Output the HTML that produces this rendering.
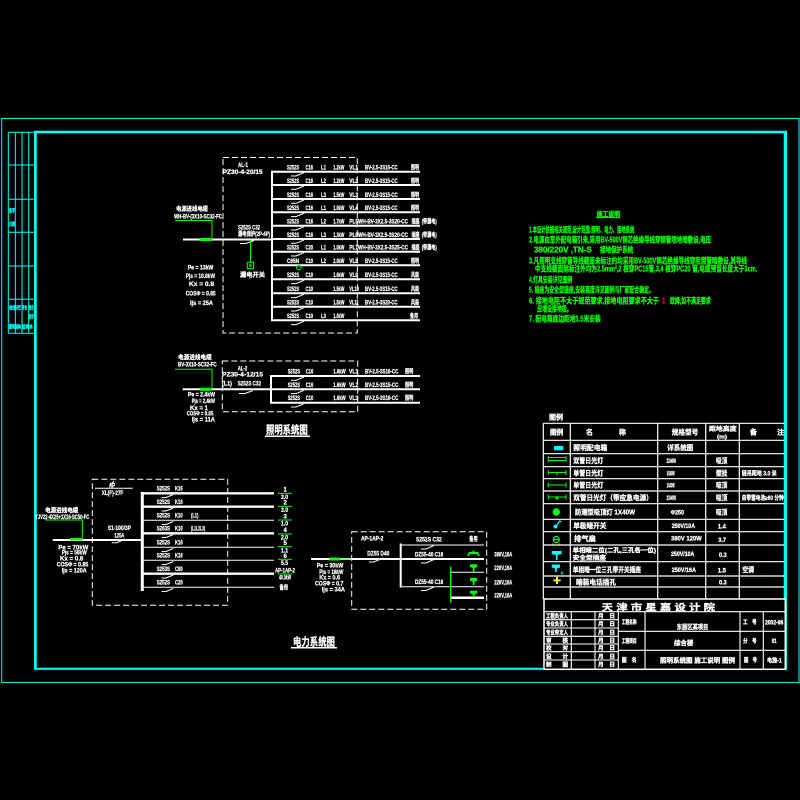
<!DOCTYPE html>
<html><head><meta charset="utf-8">
<style>
html,body{margin:0;padding:0;background:#000;}
svg{display:block;}
text{font-family:"Liberation Sans","Noto Sans CJK SC",sans-serif;font-weight:bold;}
.w{fill:#fff;font-size:6px;stroke:#fff;stroke-width:0.25px;}
.g{fill:#00ff00;font-size:8px;stroke:#00ff00;stroke-width:0.3px;}
.c{fill:#00ffff;font-size:5px;stroke:#00ffff;stroke-width:0.3px;}
.lt{fill:#fff;font-size:7px;stroke:#fff;stroke-width:0.3px;}
</style></head>
<body>
<svg width="800" height="800" viewBox="0 0 800 800" xmlns="http://www.w3.org/2000/svg">
<rect x="0" y="0" width="800" height="800" fill="#000"/>

<!-- FRAME -->
<rect x="1.7" y="118.4" width="797.3" height="564" fill="none" stroke="#00ffff" stroke-width="1"/>
<g stroke="#00ffff" fill="none">
  <line x1="34" y1="132" x2="787" y2="132" stroke-width="2.4"/>
  <line x1="35.4" y1="131" x2="35.4" y2="669.7" stroke-width="2.7"/>
  <line x1="785.4" y1="131" x2="785.4" y2="669.7" stroke-width="3.3"/>
  <line x1="34" y1="668.7" x2="787" y2="668.7" stroke-width="2"/>
  <g stroke-width="1">
    <line x1="8.3" y1="132" x2="8.3" y2="333.3"/>
    <line x1="15.3" y1="132" x2="15.3" y2="333.3"/>
    <line x1="22" y1="132" x2="22" y2="333.3"/>
    <line x1="28.7" y1="132" x2="28.7" y2="333.3"/>
    <line x1="8.3" y1="132.3" x2="34" y2="132.3"/>
    <line x1="8.3" y1="165" x2="34" y2="165"/>
    <line x1="8.3" y1="199.3" x2="34" y2="199.3"/>
    <line x1="8.3" y1="232.3" x2="34" y2="232.3"/>
    <line x1="8.3" y1="266" x2="34" y2="266"/>
    <line x1="8.3" y1="299.3" x2="34" y2="299.3"/>
    <line x1="8.3" y1="333.3" x2="34" y2="333.3"/>
  </g>
</g>
<g class="c">
  <text x="9" y="212.5" textLength="6" lengthAdjust="spacingAndGlyphs">签字</text>
  <text x="9" y="226" textLength="6" lengthAdjust="spacingAndGlyphs">日期</text>
  <text x="9" y="309.5" textLength="12" lengthAdjust="spacingAndGlyphs">会签栏</text>
  <text x="22" y="309.5" textLength="5" lengthAdjust="spacingAndGlyphs">专业</text>
  <text x="28.7" y="309.5" textLength="5" lengthAdjust="spacingAndGlyphs">姓名</text>
  <text x="28.7" y="318.5" textLength="5" lengthAdjust="spacingAndGlyphs">签字</text>
  <text x="9" y="328.5" textLength="12" lengthAdjust="spacingAndGlyphs">建筑结构</text>
  <text x="22" y="328.5" textLength="11" lengthAdjust="spacingAndGlyphs">给排水</text>
</g>

<!-- ============ LIGHTING AL-1 ============ -->
<rect x="223" y="157.5" width="134.3" height="175.5" fill="none" stroke="#fff" stroke-width="1" stroke-dasharray="6,3"/>
<text class="w" x="238" y="167" textLength="10" lengthAdjust="spacingAndGlyphs">AL-1</text>
<text class="w" x="222.7" y="174" textLength="40" lengthAdjust="spacingAndGlyphs">PZ30-4-20/15</text>
<g stroke="#fff" fill="none">
  <line x1="272" y1="170.7" x2="272" y2="321.3" stroke-width="2"/>
  <line x1="183" y1="239.5" x2="272" y2="239.5" stroke-width="2"/>
  <g stroke-width="2">
    <line x1="272" y1="171.7" x2="420" y2="171.7"/>
    <line x1="272" y1="185" x2="420" y2="185"/>
    <line x1="272" y1="199" x2="420" y2="199"/>
    <line x1="272" y1="212.3" x2="420" y2="212.3"/>
    <line x1="272" y1="225.7" x2="420" y2="225.7"/>
    <line x1="272" y1="239" x2="420" y2="239"/>
    <line x1="272" y1="251.7" x2="420" y2="251.7"/>
    <line x1="272" y1="265.3" x2="420" y2="265.3"/>
    <line x1="272" y1="279.3" x2="420" y2="279.3"/>
    <line x1="272" y1="293.3" x2="420" y2="293.3"/>
    <line x1="272" y1="306.7" x2="420" y2="306.7"/>
    <line x1="272" y1="320.3" x2="420" y2="320.3"/>
  </g>
  <g stroke-width="1">
    <path d="M291 176 L296 176 L304 172.7"/>
    <path d="M291 189.3 L296 189.3 L304 186"/>
    <path d="M291 203.3 L296 203.3 L304 200"/>
    <path d="M291 216.6 L296 216.6 L304 213.3"/>
    <path d="M291 230 L296 230 L304 226.7"/>
    <path d="M291 243.3 L296 243.3 L304 240"/>
    <path d="M291 256 L296 256 L304 252.7"/>
    <path d="M291 283.6 L296 283.6 L304 280.3"/>
    <path d="M291 297.6 L296 297.6 L304 294.3"/>
    <path d="M291 311 L296 311 L304 307.7"/>
    <path d="M291 324.6 L296 324.6 L304 321.3"/>
    <path d="M240 243.5 L246 243.5 L254 240.5"/>
  </g>
</g>
<circle cx="298.8" cy="267.5" r="2.3" fill="none" stroke="#00ff00" stroke-width="1"/>
<rect x="200" y="238" width="12" height="3" fill="#00ff00"/>
<polyline points="175,220.5 212,220.5 212,239" fill="none" stroke="#00ff00" stroke-width="1"/>
<line x1="250.5" y1="240" x2="250.5" y2="262.5" stroke="#00ff00" stroke-width="1"/>
<rect x="247.3" y="262.3" width="6.3" height="6.3" fill="none" stroke="#00ff00" stroke-width="1"/>
<rect x="249.3" y="264.3" width="2.3" height="2.3" fill="#00ff00"/>
<g class="w">
  <text x="176" y="211" textLength="32" lengthAdjust="spacingAndGlyphs">电源进线电缆</text>
  <text x="174" y="218.3" textLength="48" lengthAdjust="spacingAndGlyphs">WH-BV-(3X10-SC32-FC</text>
  <text x="238" y="229.3" textLength="22" lengthAdjust="spacingAndGlyphs">S252S  C32</text>
  <text x="238" y="236" textLength="32" lengthAdjust="spacingAndGlyphs">漏电保护(2P-4P)</text>
  <text x="240" y="277" textLength="25" lengthAdjust="spacingAndGlyphs">漏电开关</text>
  <text x="187.7" y="269.3" textLength="25.6" lengthAdjust="spacingAndGlyphs">Pe  = 13kW</text>
  <text x="185.7" y="278" textLength="29.3" lengthAdjust="spacingAndGlyphs">Pjs = 10.8kW</text>
  <text x="189" y="286" textLength="25" lengthAdjust="spacingAndGlyphs">Kx  =  0.8</text>
  <text x="185.7" y="295.3" textLength="30" lengthAdjust="spacingAndGlyphs">COSΦ =  0.85</text>
  <text x="190" y="305" textLength="23" lengthAdjust="spacingAndGlyphs">Ijs =  25A</text>
</g>
<g class="w">
  <text x="287" y="169.5" textLength="12" lengthAdjust="spacingAndGlyphs">S252S</text><text x="305.5" y="169.5" textLength="7.5" lengthAdjust="spacingAndGlyphs">C16</text><text x="321" y="169.5" textLength="5" lengthAdjust="spacingAndGlyphs">L1</text><text x="333.3" y="169.5" textLength="11" lengthAdjust="spacingAndGlyphs">1.2kW</text><text x="349.3" y="169.5" textLength="8.7" lengthAdjust="spacingAndGlyphs">VL1</text><text x="365" y="169.5" textLength="32.7" lengthAdjust="spacingAndGlyphs">BV-2.5-3S16-CC</text><text x="411" y="169.5" textLength="8" lengthAdjust="spacingAndGlyphs">照明</text>
  <text x="287" y="182.8" textLength="12" lengthAdjust="spacingAndGlyphs">S252S</text><text x="305.5" y="182.8" textLength="7.5" lengthAdjust="spacingAndGlyphs">C16</text><text x="321" y="182.8" textLength="5" lengthAdjust="spacingAndGlyphs">L2</text><text x="333.3" y="182.8" textLength="11" lengthAdjust="spacingAndGlyphs">1.2kW</text><text x="349.3" y="182.8" textLength="8.7" lengthAdjust="spacingAndGlyphs">VL2</text><text x="365" y="182.8" textLength="32.7" lengthAdjust="spacingAndGlyphs">BV-2.5-3S15-CC</text><text x="411" y="182.8" textLength="8" lengthAdjust="spacingAndGlyphs">照明</text>
  <text x="287" y="196.8" textLength="12" lengthAdjust="spacingAndGlyphs">S252S</text><text x="305.5" y="196.8" textLength="7.5" lengthAdjust="spacingAndGlyphs">C16</text><text x="321" y="196.8" textLength="5" lengthAdjust="spacingAndGlyphs">L3</text><text x="333.3" y="196.8" textLength="11" lengthAdjust="spacingAndGlyphs">1.5kW</text><text x="349.3" y="196.8" textLength="8.7" lengthAdjust="spacingAndGlyphs">VL3</text><text x="365" y="196.8" textLength="32.7" lengthAdjust="spacingAndGlyphs">BV-2.5-3S15-CC</text><text x="411" y="196.8" textLength="8" lengthAdjust="spacingAndGlyphs">照明</text>
  <text x="287" y="210.1" textLength="12" lengthAdjust="spacingAndGlyphs">S252S</text><text x="305.5" y="210.1" textLength="7.5" lengthAdjust="spacingAndGlyphs">C16</text><text x="321" y="210.1" textLength="5" lengthAdjust="spacingAndGlyphs">L1</text><text x="333.3" y="210.1" textLength="11" lengthAdjust="spacingAndGlyphs">1.0kW</text><text x="349.3" y="210.1" textLength="8.7" lengthAdjust="spacingAndGlyphs">VL4</text><text x="365" y="210.1" textLength="32.7" lengthAdjust="spacingAndGlyphs">BV-2.5-3S15-CC</text><text x="411" y="210.1" textLength="8" lengthAdjust="spacingAndGlyphs">照明</text>
  <text x="287" y="223.5" textLength="12" lengthAdjust="spacingAndGlyphs">S252S</text><text x="305.5" y="223.5" textLength="7.5" lengthAdjust="spacingAndGlyphs">C16</text><text x="321" y="223.5" textLength="5" lengthAdjust="spacingAndGlyphs">L2</text><text x="333.3" y="223.5" textLength="11" lengthAdjust="spacingAndGlyphs">1.7kW</text><text x="349.3" y="223.5" textLength="8.7" lengthAdjust="spacingAndGlyphs">PL5</text><text x="358" y="223.5" textLength="50" lengthAdjust="spacingAndGlyphs">WH-BV-3X2.5-3S20-CC</text><text x="411.5" y="223.5" textLength="8" lengthAdjust="spacingAndGlyphs">插座</text><text x="421.7" y="223.5" textLength="15" lengthAdjust="spacingAndGlyphs">(带漏电)</text>
  <text x="287" y="236.8" textLength="12" lengthAdjust="spacingAndGlyphs">S252S</text><text x="305.5" y="236.8" textLength="7.5" lengthAdjust="spacingAndGlyphs">C16</text><text x="321" y="236.8" textLength="5" lengthAdjust="spacingAndGlyphs">L3</text><text x="333.3" y="236.8" textLength="11" lengthAdjust="spacingAndGlyphs">1.3kW</text><text x="349.3" y="236.8" textLength="8.7" lengthAdjust="spacingAndGlyphs">PL6</text><text x="358" y="236.8" textLength="50" lengthAdjust="spacingAndGlyphs">WH-BV-3X2.5-3S20-CC</text><text x="411.5" y="236.8" textLength="8" lengthAdjust="spacingAndGlyphs">插座</text><text x="421.7" y="236.8" textLength="15" lengthAdjust="spacingAndGlyphs">(带漏电)</text>
  <text x="287" y="249.5" textLength="12" lengthAdjust="spacingAndGlyphs">S252S</text><text x="305.5" y="249.5" textLength="7.5" lengthAdjust="spacingAndGlyphs">C20</text><text x="321" y="249.5" textLength="5" lengthAdjust="spacingAndGlyphs">L1</text><text x="333.3" y="249.5" textLength="11" lengthAdjust="spacingAndGlyphs">1.0kW</text><text x="349.3" y="249.5" textLength="8.7" lengthAdjust="spacingAndGlyphs">PL7</text><text x="358" y="249.5" textLength="50" lengthAdjust="spacingAndGlyphs">WH-BV-3X2.5-3S25-CC</text><text x="411.5" y="249.5" textLength="8" lengthAdjust="spacingAndGlyphs">插座</text><text x="421.7" y="249.5" textLength="15" lengthAdjust="spacingAndGlyphs">(带漏电)</text>
  <text x="287" y="263.1" textLength="12" lengthAdjust="spacingAndGlyphs">C65N</text><text x="305.5" y="263.1" textLength="7.5" lengthAdjust="spacingAndGlyphs">C10</text><text x="321" y="263.1" textLength="5" lengthAdjust="spacingAndGlyphs">L2</text><text x="333.3" y="263.1" textLength="11" lengthAdjust="spacingAndGlyphs">2.0kW</text><text x="349.3" y="263.1" textLength="8.7" lengthAdjust="spacingAndGlyphs">VL8</text><text x="365" y="263.1" textLength="32.7" lengthAdjust="spacingAndGlyphs">BV-2.5-3S15-CC</text><text x="411" y="263.1" textLength="8" lengthAdjust="spacingAndGlyphs">照明</text>
  <text x="287" y="277.1" textLength="12" lengthAdjust="spacingAndGlyphs">S252S</text><text x="305.5" y="277.1" textLength="7.5" lengthAdjust="spacingAndGlyphs">C10</text><text x="333.3" y="277.1" textLength="11" lengthAdjust="spacingAndGlyphs">1.6kW</text><text x="349.3" y="277.1" textLength="8.7" lengthAdjust="spacingAndGlyphs">VL9</text><text x="365" y="277.1" textLength="32.7" lengthAdjust="spacingAndGlyphs">BV-2.5-3S15-CC</text><text x="411" y="277.1" textLength="8" lengthAdjust="spacingAndGlyphs">风扇</text>
  <text x="287" y="291.1" textLength="12" lengthAdjust="spacingAndGlyphs">S252S</text><text x="305.5" y="291.1" textLength="7.5" lengthAdjust="spacingAndGlyphs">C10</text><text x="333.3" y="291.1" textLength="11" lengthAdjust="spacingAndGlyphs">1.5kW</text><text x="349.3" y="291.1" textLength="9.5" lengthAdjust="spacingAndGlyphs">VL10</text><text x="365" y="291.1" textLength="32.7" lengthAdjust="spacingAndGlyphs">BV-2.5-3S15-CC</text><text x="411" y="291.1" textLength="8" lengthAdjust="spacingAndGlyphs">风扇</text>
  <text x="287" y="304.5" textLength="12" lengthAdjust="spacingAndGlyphs">S252S</text><text x="305.5" y="304.5" textLength="7.5" lengthAdjust="spacingAndGlyphs">C10</text><text x="333.3" y="304.5" textLength="11" lengthAdjust="spacingAndGlyphs">1.5kW</text><text x="349.3" y="304.5" textLength="9.5" lengthAdjust="spacingAndGlyphs">VL11</text><text x="365" y="304.5" textLength="32.7" lengthAdjust="spacingAndGlyphs">BV-2.5-3S20-CC</text><text x="411" y="304.5" textLength="8" lengthAdjust="spacingAndGlyphs">风扇</text>
  <text x="287" y="318.1" textLength="12" lengthAdjust="spacingAndGlyphs">S252S</text><text x="305.5" y="318.1" textLength="7.5" lengthAdjust="spacingAndGlyphs">C10</text><text x="321" y="318.1" textLength="5" lengthAdjust="spacingAndGlyphs">L3</text><text x="333.3" y="318.1" textLength="11" lengthAdjust="spacingAndGlyphs">1.0kW</text><text x="410" y="318.1" textLength="8" lengthAdjust="spacingAndGlyphs">备用</text>
</g>

<!-- ============ LIGHTING AL-2 ============ -->
<rect x="222.3" y="361" width="135.4" height="50.7" fill="none" stroke="#fff" stroke-width="1" stroke-dasharray="6,3"/>
<g stroke="#fff" fill="none">
  <line x1="182.7" y1="389.3" x2="271" y2="389.3" stroke-width="2"/>
  <line x1="271" y1="375" x2="271" y2="403.7" stroke-width="2"/>
  <line x1="271" y1="376" x2="420" y2="376" stroke-width="2"/>
  <line x1="271" y1="389.3" x2="420" y2="389.3" stroke-width="2"/>
  <line x1="271" y1="402.7" x2="420" y2="402.7" stroke-width="2"/>
  <g stroke-width="1">
    <path d="M291 380.3 L296 380.3 L304 377"/>
    <path d="M291 393.6 L296 393.6 L304 390.3"/>
    <path d="M291 407 L296 407 L304 403.7"/>
    <path d="M239 393.5 L245 393.5 L253 390.5"/>
  </g>
</g>
<rect x="200" y="387.8" width="12" height="3" fill="#00ff00"/>
<polyline points="175,369.3 212,369.3 212,389" fill="none" stroke="#00ff00" stroke-width="1"/>
<g class="w">
  <text x="178" y="359.3" textLength="33.7" lengthAdjust="spacingAndGlyphs">电源进线电缆</text>
  <text x="178" y="366.7" textLength="38.7" lengthAdjust="spacingAndGlyphs">BV-3X10-SC32-FC</text>
  <text x="237.7" y="370.3" textLength="9.6" lengthAdjust="spacingAndGlyphs">AL-2</text>
  <text x="222" y="376.7" textLength="41" lengthAdjust="spacingAndGlyphs">PZ30-4-12/15</text>
  <text x="222" y="385.7" textLength="10" lengthAdjust="spacingAndGlyphs">(L1)</text>
  <text x="237.7" y="385.7" textLength="23.3" lengthAdjust="spacingAndGlyphs">S252S  C32</text>
  <text x="188" y="396.7" textLength="27" lengthAdjust="spacingAndGlyphs">Pe  = 2.4kW</text>
  <text x="191.7" y="403" textLength="23.3" lengthAdjust="spacingAndGlyphs">Pjs = 2.4kW</text>
  <text x="190" y="410" textLength="18" lengthAdjust="spacingAndGlyphs">Kx  =  1</text>
  <text x="186.7" y="415.3" textLength="26.6" lengthAdjust="spacingAndGlyphs">COSΦ =  0.85</text>
  <text x="191.7" y="421.7" textLength="23.3" lengthAdjust="spacingAndGlyphs">Ijs =  11A</text>
  <text x="287.7" y="373.5" textLength="12.3" lengthAdjust="spacingAndGlyphs">S252S</text><text x="305.7" y="373.5" textLength="7.6" lengthAdjust="spacingAndGlyphs">C16</text><text x="333.3" y="373.5" textLength="12.4" lengthAdjust="spacingAndGlyphs">1.6kW</text><text x="349" y="373.5" textLength="9.3" lengthAdjust="spacingAndGlyphs">VL1</text><text x="365" y="373.5" textLength="33.3" lengthAdjust="spacingAndGlyphs">BV-2.5-3S16-CC</text><text x="405" y="373.5" textLength="8.3" lengthAdjust="spacingAndGlyphs">照明</text>
  <text x="287.7" y="386.8" textLength="12.3" lengthAdjust="spacingAndGlyphs">S252S</text><text x="305.7" y="386.8" textLength="7.6" lengthAdjust="spacingAndGlyphs">C16</text><text x="333.3" y="386.8" textLength="12.4" lengthAdjust="spacingAndGlyphs">1.6kW</text><text x="349" y="386.8" textLength="9.3" lengthAdjust="spacingAndGlyphs">VL2</text><text x="365" y="386.8" textLength="33.3" lengthAdjust="spacingAndGlyphs">BV-2.5-3S15-CC</text><text x="405" y="386.8" textLength="8.3" lengthAdjust="spacingAndGlyphs">照明</text>
  <text x="287.7" y="400.2" textLength="12.3" lengthAdjust="spacingAndGlyphs">S252S</text><text x="305.7" y="400.2" textLength="7.6" lengthAdjust="spacingAndGlyphs">C10</text><text x="333.3" y="400.2" textLength="12.4" lengthAdjust="spacingAndGlyphs">1.6kW</text><text x="349" y="400.2" textLength="9.3" lengthAdjust="spacingAndGlyphs">VL3</text><text x="365" y="400.2" textLength="33.3" lengthAdjust="spacingAndGlyphs">BV-2.5-3S16-CC</text><text x="405" y="400.2" textLength="8.3" lengthAdjust="spacingAndGlyphs">照明</text>
</g>
<text x="266" y="433.5" fill="#fff" stroke="#fff" stroke-width="0.3" font-size="11" textLength="41.7" lengthAdjust="spacingAndGlyphs">照明系统图</text>
<line x1="265" y1="436.3" x2="310" y2="436.3" stroke="#fff" stroke-width="1.5"/>

<!-- ============ NOTES ============ -->
<g class="g">
  <text x="596.7" y="216.5" font-size="7" textLength="23.3" lengthAdjust="spacingAndGlyphs">施工说明</text>
  <text x="529" y="232.3" textLength="105.3" lengthAdjust="spacingAndGlyphs">1.本设计依据相关规范,设计范围:照明、电力、接地系统</text>
  <text x="529" y="242.5" textLength="182" lengthAdjust="spacingAndGlyphs">2.电源由室外配电箱引来,采用BV-500V铜芯绝缘导线穿钢管埋地暗敷设,电压</text>
  <text x="534" y="252.3" textLength="57.7" lengthAdjust="spacingAndGlyphs">380/220V ,TN-S</text>
  <text x="600" y="252.3" textLength="33.3" lengthAdjust="spacingAndGlyphs">接地保护系统</text>
  <text x="529" y="263.3" textLength="218" lengthAdjust="spacingAndGlyphs">3.凡照明支线穿管导线截面未标注的均采用BV-500V铜芯绝缘导线穿阻燃管暗敷设,其导线</text>
  <text x="535" y="271.7" textLength="222.3" lengthAdjust="spacingAndGlyphs">中支线截面除标注外均为2.5mm²,2 根穿PC15管,3,4 根穿PC20 管,电缆预留长度大于3cm.</text>
  <text x="529" y="282.7" textLength="43.3" lengthAdjust="spacingAndGlyphs">4.灯具安装详见图例</text>
  <text x="529" y="292.7" textLength="125" lengthAdjust="spacingAndGlyphs">5. 插座为安全型插座,安装高度详见图例与厂家配合确定。</text>
  <text x="529" y="303.3" textLength="130" lengthAdjust="spacingAndGlyphs">6. 接地电阻不大于规范要求,接地电阻要求不大于</text>
  <text x="670" y="303.3" textLength="40.7" lengthAdjust="spacingAndGlyphs">欧姆,如不满足要求</text>
  <text x="537.3" y="311.7" textLength="34.4" lengthAdjust="spacingAndGlyphs">应增设接地极。</text>
  <text x="529" y="321.7" textLength="71.7" lengthAdjust="spacingAndGlyphs">7. 配电箱底边距地1.5米安装</text>
</g>
<line x1="596" y1="217.6" x2="620.5" y2="217.6" stroke="#00ff00" stroke-width="1"/>
<text x="661.5" y="303.3" fill="#ff0000" font-size="8">1</text>

<!-- ============ LEGEND TABLE ============ -->
<text class="lt" x="549" y="419.5" textLength="14" lengthAdjust="spacingAndGlyphs">图例</text>
<g stroke="#fff" stroke-width="1.2" fill="none">
  <line x1="543.3" y1="423.3" x2="784" y2="423.3"/>
  <line x1="543.3" y1="440.3" x2="784" y2="440.3"/>
  <line x1="543.3" y1="453.7" x2="784" y2="453.7"/>
  <line x1="543.3" y1="466.7" x2="784" y2="466.7"/>
  <line x1="543.3" y1="478.7" x2="784" y2="478.7"/>
  <line x1="543.3" y1="491" x2="784" y2="491"/>
  <line x1="543.3" y1="503.7" x2="784" y2="503.7"/>
  <line x1="543.3" y1="519.3" x2="784" y2="519.3"/>
  <line x1="543.3" y1="531.7" x2="784" y2="531.7"/>
  <line x1="543.3" y1="545" x2="784" y2="545"/>
  <line x1="543.3" y1="561.7" x2="784" y2="561.7"/>
  <line x1="543.3" y1="576" x2="784" y2="576"/>
  <line x1="543.3" y1="587" x2="784" y2="587"/>
  <line x1="543.3" y1="423.3" x2="543.3" y2="599"/>
  <line x1="570.3" y1="423.3" x2="570.3" y2="599"/>
  <line x1="657.7" y1="423.3" x2="657.7" y2="599"/>
  <line x1="705.7" y1="423.3" x2="705.7" y2="599"/>
  <line x1="739.3" y1="423.3" x2="739.3" y2="599"/>
</g>
<g class="lt">
  <text x="550" y="434.5" textLength="13.3" lengthAdjust="spacingAndGlyphs">图例</text>
  <text x="586" y="434.5">名</text>
  <text x="619" y="434.5">称</text>
  <text x="671.7" y="434.5" textLength="26.6" lengthAdjust="spacingAndGlyphs">规格型号</text>
  <text x="709" y="431" font-size="6" textLength="27.7" lengthAdjust="spacingAndGlyphs">距地高度</text>
  <text x="717" y="438.5" font-size="5" textLength="10" lengthAdjust="spacingAndGlyphs">(m)</text>
  <text x="750" y="434.5">备</text>
  <text x="777" y="434.5">注</text>

  <text x="573.3" y="449.8" textLength="34" lengthAdjust="spacingAndGlyphs">照明配电箱</text>
  <text x="667.3" y="449.8" textLength="26" lengthAdjust="spacingAndGlyphs">详系统图</text>

  <text x="573.3" y="463" textLength="30" lengthAdjust="spacingAndGlyphs">双管日光灯</text>
  <text x="666.5" y="463" font-size="6" textLength="9.5" lengthAdjust="spacingAndGlyphs">2X40W</text>
  <text x="716" y="463" textLength="11.3" lengthAdjust="spacingAndGlyphs">吸顶</text>

  <text x="573.3" y="475.5" textLength="30" lengthAdjust="spacingAndGlyphs">单管日光灯</text>
  <text x="666.7" y="475.5" font-size="6" textLength="8" lengthAdjust="spacingAndGlyphs">1X40W</text>
  <text x="716" y="475.5" textLength="11.3" lengthAdjust="spacingAndGlyphs">壁挂</text>
  <text x="741.7" y="475.5" font-size="6" textLength="35" lengthAdjust="spacingAndGlyphs">链吊距地 3.0 米</text>

  <text x="573.3" y="487.5" textLength="30" lengthAdjust="spacingAndGlyphs">单管日光灯</text>
  <text x="666.7" y="487.5" font-size="6" textLength="8" lengthAdjust="spacingAndGlyphs">1X40W</text>
  <text x="716" y="487.5" textLength="11.3" lengthAdjust="spacingAndGlyphs">吸顶</text>

  <text x="573.3" y="500" textLength="79.4" lengthAdjust="spacingAndGlyphs">双管日光灯（带应急电源）</text>
  <text x="666.5" y="500" font-size="6" textLength="9.5" lengthAdjust="spacingAndGlyphs">2X40W</text>
  <text x="716" y="500" textLength="11.3" lengthAdjust="spacingAndGlyphs">吸顶</text>
  <text x="741.7" y="500" font-size="6" textLength="42" lengthAdjust="spacingAndGlyphs">自带蓄电池≥60 分钟</text>

  <text x="575" y="514.5" textLength="60" lengthAdjust="spacingAndGlyphs">防潮型吸顶灯 1X40W</text>
  <text x="670.7" y="514.5" font-size="6" textLength="13.3" lengthAdjust="spacingAndGlyphs">Φ250</text>
  <text x="716" y="514.5" textLength="11.3" lengthAdjust="spacingAndGlyphs">吸顶</text>

  <text x="573.3" y="528" textLength="33" lengthAdjust="spacingAndGlyphs">单极暗开关</text>
  <text x="671.7" y="528" font-size="6" textLength="23.3" lengthAdjust="spacingAndGlyphs">250V/10A</text>
  <text x="717.7" y="528.5" font-size="6" textLength="8.3" lengthAdjust="spacingAndGlyphs">1.4</text>

  <text x="574" y="541" textLength="22" lengthAdjust="spacingAndGlyphs">排气扇</text>
  <text x="671" y="540.5" font-size="6" textLength="30.7" lengthAdjust="spacingAndGlyphs">380V 120W</text>
  <text x="718.3" y="542" font-size="6" textLength="7.7" lengthAdjust="spacingAndGlyphs">3.7</text>

  <text x="572.7" y="552.5" font-size="6" textLength="83.3" lengthAdjust="spacingAndGlyphs">单相暗二位(二孔,三孔各一位)</text>
  <text x="572.7" y="559.8" font-size="6" textLength="33.3" lengthAdjust="spacingAndGlyphs">安全型插座</text>
  <text x="671" y="556" font-size="6" textLength="23.3" lengthAdjust="spacingAndGlyphs">250V/10A</text>
  <text x="719" y="557" font-size="6" textLength="7.7" lengthAdjust="spacingAndGlyphs">0.3</text>

  <text x="572.7" y="572" textLength="68.3" lengthAdjust="spacingAndGlyphs">单相暗一位三孔带开关插座</text>
  <text x="671.7" y="572" font-size="6" textLength="24.3" lengthAdjust="spacingAndGlyphs">250V/16A</text>
  <text x="717.7" y="572.5" font-size="6" textLength="8.3" lengthAdjust="spacingAndGlyphs">1.5</text>
  <text x="742.3" y="572" textLength="11.7" lengthAdjust="spacingAndGlyphs">空调</text>

  <text x="576" y="584.3" textLength="40" lengthAdjust="spacingAndGlyphs">暗装电话插孔</text>
  <text x="719" y="584.5" font-size="6" textLength="7.7" lengthAdjust="spacingAndGlyphs">0.3</text>
</g>
<rect x="554" y="446" width="9.3" height="4.3" fill="#00ffff"/>
<g stroke="#00ff00" stroke-width="1" fill="none">
  <line x1="548.3" y1="457.5" x2="566" y2="457.5"/>
  <line x1="548.3" y1="460.5" x2="566" y2="460.5"/>
  <line x1="548.3" y1="456" x2="548.3" y2="462"/>
  <line x1="566" y1="456" x2="566" y2="462"/>
  <line x1="548.3" y1="472.5" x2="566" y2="472.5"/>
  <line x1="548.3" y1="470" x2="548.3" y2="475"/>
  <line x1="566" y1="470" x2="566" y2="475"/>
  <line x1="557" y1="472.5" x2="557" y2="475.5"/>
  <line x1="548.3" y1="485" x2="566" y2="485"/>
  <line x1="548.3" y1="482.5" x2="548.3" y2="487.5"/>
  <line x1="566" y1="482.5" x2="566" y2="487.5"/>
  <line x1="548.3" y1="497" x2="566" y2="497"/>
  <line x1="548.3" y1="494.5" x2="548.3" y2="499.5"/>
  <line x1="566" y1="494.5" x2="566" y2="499.5"/>
</g>
<circle cx="557" cy="498" r="1.6" fill="#00ff00"/>
<circle cx="556.3" cy="512" r="3.7" fill="#00ff00"/>
<g stroke="#00ffff" stroke-width="1.2" fill="none">
  <circle cx="555.5" cy="526.5" r="1.4" fill="#00ffff"/>
  <path d="M556.5 525.5 L559.5 521 L561.5 522"/>
</g>
<g stroke="#00ff00" stroke-width="1.2" fill="none">
  <circle cx="556.3" cy="539.5" r="3"/>
  <line x1="553" y1="543.5" x2="553" y2="544.5"/>
  <line x1="559.6" y1="543.5" x2="559.6" y2="544.5"/>
  <line x1="553.5" y1="539.5" x2="559" y2="539.5"/>
</g>
<path d="M551.7 551 L561.7 551 L561.7 554 L557.5 555 L557.5 560 L555.9 560 L555.9 555 L551.7 554 Z" fill="#00ffff"/>
<path d="M551.7 564.5 L560 564.5 L560 567.5 L556.7 568.5 L556.7 572 L555 572 L555 568.5 L551.7 567.5 Z" fill="#00ffff"/>
<text x="560.7" y="574.5" fill="#00ffff" font-size="4.5">K</text>
<path d="M553.3 579.5 L556 579.5 L556 576.7 L558 576.7 L558 579.5 L560.7 579.5 L560.7 581.3 L558 581.3 L558 584 L556 584 L556 581.3 L553.3 581.3 Z" fill="#ffff00"/>

<!-- ============ TITLE BLOCK ============ -->
<rect x="544" y="599" width="241.3" height="70.3" fill="#000" stroke="#fff" stroke-width="1.5"/>
<g stroke="#fff" stroke-width="1.1" fill="none">
  <line x1="544" y1="611.7" x2="785.3" y2="611.7"/>
  <line x1="571.3" y1="611.7" x2="571.3" y2="669.3"/>
  <line x1="595" y1="611.7" x2="595" y2="669.3"/>
  <line x1="618.3" y1="611.7" x2="618.3" y2="669.3"/>
  <line x1="645" y1="611.7" x2="645" y2="669.3"/>
  <line x1="740" y1="611.7" x2="740" y2="669.3"/>
  <line x1="763.3" y1="611.7" x2="763.3" y2="669.3"/>
  <line x1="544" y1="619.7" x2="618.3" y2="619.7"/>
  <line x1="544" y1="628" x2="618.3" y2="628"/>
  <line x1="544" y1="636.3" x2="618.3" y2="636.3"/>
  <line x1="544" y1="644" x2="618.3" y2="644"/>
  <line x1="544" y1="651.7" x2="618.3" y2="651.7"/>
  <line x1="544" y1="660" x2="618.3" y2="660"/>
  <line x1="618.3" y1="631.3" x2="785.3" y2="631.3"/>
  <line x1="618.3" y1="650.3" x2="785.3" y2="650.3"/>
</g>
<g class="lt">
  <text x="601.7" y="610.5" font-size="9" textLength="113.3" lengthAdjust="spacingAndGlyphs">天 津 市 星 嘉 设 计 院</text>
  <g font-size="5.5">
    <text x="546" y="618" textLength="22" lengthAdjust="spacingAndGlyphs">工程负责人</text>
    <text x="546" y="626.2" textLength="22" lengthAdjust="spacingAndGlyphs">专业负责人</text>
    <text x="546" y="634.5" textLength="22" lengthAdjust="spacingAndGlyphs">专业审定人</text>
    <text x="546" y="642.5" textLength="22" lengthAdjust="spacingAndGlyphs">审　　核</text>
    <text x="546" y="650.2" textLength="22" lengthAdjust="spacingAndGlyphs">校　　对</text>
    <text x="546" y="658.3" textLength="22" lengthAdjust="spacingAndGlyphs">设　　计</text>
    <text x="546" y="666.6" textLength="22" lengthAdjust="spacingAndGlyphs">制　　图</text>
    <text x="598" y="618" textLength="17" lengthAdjust="spacingAndGlyphs">月　日</text>
    <text x="598" y="626.2" textLength="17" lengthAdjust="spacingAndGlyphs">月　日</text>
    <text x="598" y="634.5" textLength="17" lengthAdjust="spacingAndGlyphs">月　日</text>
    <text x="598" y="642.5" textLength="17" lengthAdjust="spacingAndGlyphs">月　日</text>
    <text x="598" y="650.2" textLength="17" lengthAdjust="spacingAndGlyphs">月　日</text>
    <text x="598" y="658.3" textLength="17" lengthAdjust="spacingAndGlyphs">月　日</text>
    <text x="598" y="666.6" textLength="17" lengthAdjust="spacingAndGlyphs">月　日</text>
    <text x="621.7" y="624" textLength="15" lengthAdjust="spacingAndGlyphs">工程名称</text>
    <text x="621.7" y="643" textLength="15" lengthAdjust="spacingAndGlyphs">工程项目</text>
    <text x="621.7" y="662" textLength="15" lengthAdjust="spacingAndGlyphs">图　名</text>
    <text x="743" y="624" textLength="13.7" lengthAdjust="spacingAndGlyphs">工　号</text>
    <text x="743" y="643" textLength="13.7" lengthAdjust="spacingAndGlyphs">分　号</text>
    <text x="744" y="662" textLength="13" lengthAdjust="spacingAndGlyphs">图　号</text>
  </g>
  <text x="676.7" y="629" font-size="6.5" textLength="31.6" lengthAdjust="spacingAndGlyphs">东丽区某项目</text>
  <text x="674" y="645" font-size="6.5" textLength="19.3" lengthAdjust="spacingAndGlyphs">综合楼</text>
  <text x="660" y="662.5" font-size="6.5" textLength="75" lengthAdjust="spacingAndGlyphs">照明系统图  施工说明  图例</text>
  <text x="765" y="624.5" font-size="6" textLength="18.3" lengthAdjust="spacingAndGlyphs">2002-98</text>
  <text x="771.7" y="643" font-size="6" textLength="5" lengthAdjust="spacingAndGlyphs">01</text>
  <text x="767" y="662.5" font-size="6" textLength="14.7" lengthAdjust="spacingAndGlyphs">电施-1</text>
</g>

<!-- ============ POWER AP ============ -->
<rect x="92.3" y="479.3" width="135.4" height="126" fill="none" stroke="#fff" stroke-width="1" stroke-dasharray="6,3"/>
<g stroke="#fff" fill="none">
  <line x1="95" y1="488.3" x2="132.7" y2="488.3" stroke-width="1"/>
  <path d="M110 485.5 L114 481" stroke-width="1"/>
  <line x1="52.7" y1="540" x2="142.3" y2="540" stroke-width="2"/>
  <line x1="142.3" y1="492" x2="142.3" y2="591" stroke-width="3"/>
  <line x1="142.3" y1="493.3" x2="274" y2="493.3" stroke-width="2.4"/>
  <line x1="142.3" y1="506.7" x2="274" y2="506.7" stroke-width="2.4"/>
  <line x1="142.3" y1="520.3" x2="274" y2="520.3" stroke-width="1"/>
  <line x1="142.3" y1="533.3" x2="274" y2="533.3" stroke-width="2.4"/>
  <line x1="142.3" y1="547.3" x2="274" y2="547.3" stroke-width="1"/>
  <line x1="142.3" y1="560.3" x2="274" y2="560.3" stroke-width="1"/>
  <line x1="142.3" y1="573.7" x2="274" y2="573.7" stroke-width="2.4"/>
  <line x1="142.3" y1="587.3" x2="274" y2="587.3" stroke-width="1"/>
  <g stroke-width="1">
    <path d="M161.7 497.5 L166 497.5 L173.3 494.5"/>
    <path d="M161.7 511 L166 511 L173.3 508"/>
    <path d="M161.7 524.5 L166 524.5 L173.3 521.5"/>
    <path d="M161.7 537.5 L166 537.5 L173.3 534.5"/>
    <path d="M161.7 551.5 L166 551.5 L173.3 548.5"/>
    <path d="M161.7 564.5 L166 564.5 L173.3 561.5"/>
    <path d="M161.7 578 L166 578 L173.3 575"/>
    <path d="M161.7 591.5 L166 591.5 L173.3 588.5"/>
    <path d="M111.7 542.7 L117 542.7 L125 539"/>
  </g>
</g>
<g stroke="#00ff00" stroke-width="1">
  <line x1="278" y1="493.3" x2="292" y2="493.3"/>
  <line x1="278" y1="506.3" x2="292" y2="506.3"/>
  <line x1="278" y1="520" x2="292" y2="520"/>
  <line x1="278" y1="534" x2="292" y2="534"/>
  <line x1="278" y1="546.7" x2="292" y2="546.7"/>
  <line x1="278" y1="559.3" x2="292" y2="559.3"/>
  <line x1="278" y1="574" x2="292" y2="574"/>
</g>
<rect x="70" y="538" width="11.7" height="2.5" fill="#00ff00"/>
<polyline points="45,520 82.3,520 82.3,540" fill="none" stroke="#00ff00" stroke-width="1"/>
<g class="w">
  <text x="109" y="487.5" textLength="6" lengthAdjust="spacingAndGlyphs">AP</text>
  <text x="101.7" y="495" textLength="21.6" lengthAdjust="spacingAndGlyphs">XL(F)-27F</text>
  <text x="45" y="512.3" textLength="33.3" lengthAdjust="spacingAndGlyphs">电源进线电缆</text>
  <text x="35" y="519" textLength="54.3" lengthAdjust="spacingAndGlyphs">YJV22-4X25+1X16-SC50-FC</text>
  <text x="107.7" y="530" textLength="23.3" lengthAdjust="spacingAndGlyphs">S1-100/3P</text>
  <text x="114.3" y="537.7" textLength="10" lengthAdjust="spacingAndGlyphs">125A</text>
  <text x="58.3" y="549.3" textLength="30" lengthAdjust="spacingAndGlyphs">Pe  =  70kW</text>
  <text x="61.7" y="554.7" textLength="25" lengthAdjust="spacingAndGlyphs">Pjs = 56kW</text>
  <text x="60" y="560.7" textLength="23.3" lengthAdjust="spacingAndGlyphs">Kx  =  0.8</text>
  <text x="56.7" y="566.7" textLength="31.6" lengthAdjust="spacingAndGlyphs">COSΦ =  0.85</text>
  <text x="61.7" y="572.7" textLength="25" lengthAdjust="spacingAndGlyphs">Ijs =  120A</text>

  <text x="156.7" y="490.5" textLength="13.3" lengthAdjust="spacingAndGlyphs">S252S</text><text x="175" y="490.5" textLength="7.7" lengthAdjust="spacingAndGlyphs">K16</text>
  <text x="156.7" y="503.8" textLength="13.3" lengthAdjust="spacingAndGlyphs">S252S</text><text x="175" y="503.8" textLength="7.7" lengthAdjust="spacingAndGlyphs">K16</text>
  <text x="156.7" y="517.5" textLength="13.3" lengthAdjust="spacingAndGlyphs">S252S</text><text x="175" y="517.5" textLength="7.7" lengthAdjust="spacingAndGlyphs">K10</text><text x="191" y="517.5" textLength="7.3" lengthAdjust="spacingAndGlyphs">(L1)</text>
  <text x="156.7" y="530.5" textLength="13.3" lengthAdjust="spacingAndGlyphs">S263S</text><text x="175" y="530.5" textLength="7.7" lengthAdjust="spacingAndGlyphs">K10</text><text x="191" y="530.5" textLength="14" lengthAdjust="spacingAndGlyphs">(L1L2L3)</text>
  <text x="156.7" y="544.5" textLength="13.3" lengthAdjust="spacingAndGlyphs">S252S</text><text x="175" y="544.5" textLength="7.7" lengthAdjust="spacingAndGlyphs">K16</text>
  <text x="156.7" y="557.5" textLength="13.3" lengthAdjust="spacingAndGlyphs">S252S</text><text x="175" y="557.5" textLength="7.7" lengthAdjust="spacingAndGlyphs">K16</text>
  <text x="156.7" y="571" textLength="13.3" lengthAdjust="spacingAndGlyphs">S253S</text><text x="175" y="571" textLength="7.7" lengthAdjust="spacingAndGlyphs">C80</text>
  <text x="156.7" y="584.5" textLength="13.3" lengthAdjust="spacingAndGlyphs">S252S</text><text x="175" y="584.5" textLength="7.7" lengthAdjust="spacingAndGlyphs">C20</text>

  <text x="283.5" y="491.7">1</text><text x="281" y="499" textLength="7" lengthAdjust="spacingAndGlyphs">3.0</text>
  <text x="283.5" y="504.7">2</text><text x="281" y="512" textLength="7" lengthAdjust="spacingAndGlyphs">3.0</text>
  <text x="283.5" y="518.3">3</text><text x="281" y="525.7" textLength="7" lengthAdjust="spacingAndGlyphs">1.0</text>
  <text x="283.5" y="532">4</text><text x="281" y="539.3" textLength="7" lengthAdjust="spacingAndGlyphs">2.0</text>
  <text x="283.5" y="545">5</text><text x="281" y="552.3" textLength="7" lengthAdjust="spacingAndGlyphs">1.1</text>
  <text x="283.5" y="558">6</text><text x="281" y="565" textLength="7" lengthAdjust="spacingAndGlyphs">5.5</text>
  <text x="275" y="572.5" textLength="20" lengthAdjust="spacingAndGlyphs">AP-1AP-2</text><text x="279" y="579.5" textLength="12" lengthAdjust="spacingAndGlyphs">40.0kW</text>
  <text x="279.5" y="589.5" textLength="8.5" lengthAdjust="spacingAndGlyphs">备用</text>
</g>

<!-- ============ POWER AP-1AP-2 ============ -->
<rect x="351.7" y="531.7" width="135" height="77.6" fill="none" stroke="#fff" stroke-width="1" stroke-dasharray="6,3"/>
<g stroke="#fff" fill="none">
  <line x1="311" y1="559" x2="484" y2="559" stroke-width="2"/>
  <line x1="400.7" y1="543.5" x2="400.7" y2="587.5" stroke-width="2"/>
  <line x1="400.7" y1="545" x2="484" y2="545" stroke-width="1"/>
  <line x1="400.7" y1="586.7" x2="450.7" y2="586.7" stroke-width="1"/>
  <line x1="450.7" y1="572.3" x2="484" y2="572.3" stroke-width="1"/>
  <line x1="450.7" y1="586.7" x2="484" y2="586.7" stroke-width="1"/>
  <line x1="450.7" y1="597.7" x2="484" y2="597.7" stroke-width="2.5"/>
  <g stroke-width="1">
    <path d="M369 562 L374 562 L383 558"/>
    <path d="M421 549 L426 549 L434 545.5"/>
    <path d="M421 563 L426 563 L434 559.5"/>
    <path d="M421 590.5 L426 590.5 L434 587"/>
  </g>
</g>
<line x1="450.7" y1="566.7" x2="450.7" y2="602.7" stroke="#00ff00" stroke-width="1.5"/>
<rect x="329.3" y="557.5" width="10.7" height="3" fill="#00ff00"/>
<line x1="340" y1="559" x2="351" y2="559" stroke="#00ff00" stroke-width="1"/>
<g fill="#00ff00">
  <path d="M467 556 L469 552 L478 552 L480 556 L478 556 L477 554 L470 554 L469 556 Z"/>
  <rect x="472.5" y="550.7" width="2" height="2"/>
  <path d="M470 564.3 L477.3 564.3 L477.3 567 L474.5 568 L474.5 571.7 L472.8 571.7 L472.8 568 L470 567 Z"/>
  <path d="M470 578 L477.3 578 L477.3 580.7 L474.5 581.7 L474.5 585 L472.8 585 L472.8 581.7 L470 580.7 Z"/>
  <path d="M470 590.7 L477.3 590.7 L477.3 593.3 L474.5 594.3 L474.5 597.3 L472.8 597.3 L472.8 594.3 L470 593.3 Z"/>
</g>
<g class="w">
  <text x="361" y="540.7" textLength="22.3" lengthAdjust="spacingAndGlyphs">AP-1AP-2</text>
  <text x="416" y="541.7" textLength="25.7" lengthAdjust="spacingAndGlyphs">S252S  C32</text>
  <text x="469.3" y="541" textLength="8.4" lengthAdjust="spacingAndGlyphs">备用</text>
  <text x="367.3" y="555.7" textLength="22" lengthAdjust="spacingAndGlyphs">DZ55  D40</text>
  <text x="415" y="556.7" textLength="28.3" lengthAdjust="spacingAndGlyphs">DZ55-40  C16</text>
  <text x="415" y="584" textLength="28.3" lengthAdjust="spacingAndGlyphs">DZ55-40  C16</text>
  <text x="494.3" y="556.7" textLength="18" lengthAdjust="spacingAndGlyphs">380V,16A</text>
  <text x="494.3" y="570" textLength="18" lengthAdjust="spacingAndGlyphs">220V,16A</text>
  <text x="494.3" y="584.3" textLength="18" lengthAdjust="spacingAndGlyphs">220V,16A</text>
  <text x="494.3" y="597.7" textLength="18" lengthAdjust="spacingAndGlyphs">220V,16A</text>
  <text x="316.7" y="567.3" textLength="26.6" lengthAdjust="spacingAndGlyphs">Pe  =  30kW</text>
  <text x="319.3" y="574" textLength="24" lengthAdjust="spacingAndGlyphs">Pjs = 18kW</text>
  <text x="319.3" y="579.3" textLength="20.7" lengthAdjust="spacingAndGlyphs">Kx  =  0.6</text>
  <text x="315" y="585.7" textLength="28.3" lengthAdjust="spacingAndGlyphs">COSΦ =  0.7</text>
  <text x="321.7" y="591.7" textLength="23.3" lengthAdjust="spacingAndGlyphs">Ijs =  34A</text>
</g>
<text x="293" y="645.5" fill="#fff" stroke="#fff" stroke-width="0.3" font-size="11" textLength="42" lengthAdjust="spacingAndGlyphs">电力系统图</text>
<line x1="291" y1="647.7" x2="337" y2="647.7" stroke="#fff" stroke-width="1.5"/>

</svg>
</body></html>
